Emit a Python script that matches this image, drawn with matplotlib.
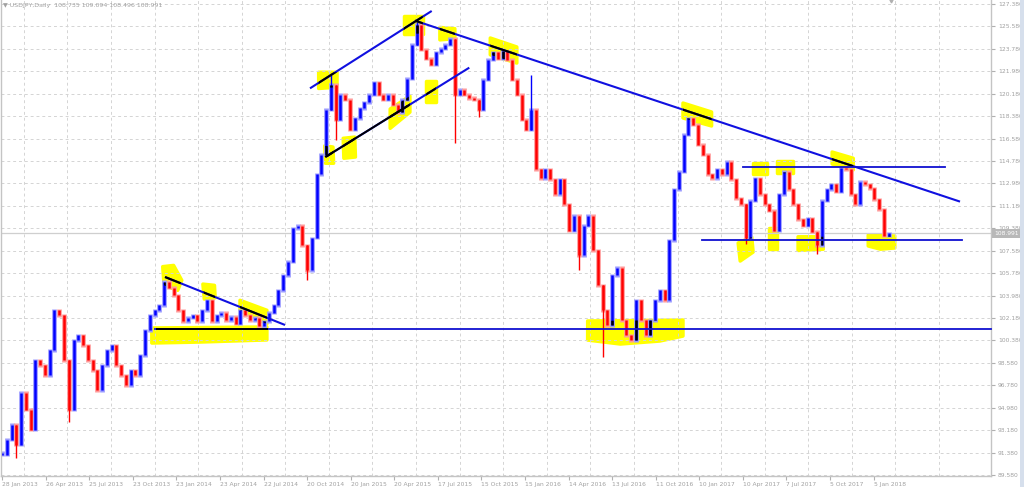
import numpy as np
import matplotlib
matplotlib.use("Agg")
import matplotlib.pyplot as plt
import matplotlib.transforms as mtransforms
from matplotlib.path import Path
from matplotlib.patches import Polygon, Rectangle

# USDJPY daily, one close read every 7 trading days
step_days = 7
closes = [
    91.2, 92.4, 93.6, 92.0, 96.2, 94.8, 93.2, 98.8, 98.4, 97.6,
    99.6, 102.8, 102.4, 98.8, 94.8, 100.4, 100.8, 100.0, 98.8, 98.0,
    96.4, 98.4, 99.6, 100.0, 98.4, 97.6, 96.8, 98.0, 97.6, 99.2,
    101.2, 102.4, 102.8, 103.2, 105.1, 104.6, 104.0, 102.8, 101.9, 102.2,
    102.4, 101.9, 102.8, 103.6, 101.9, 102.4, 102.6, 102.0, 102.3, 101.7,
    102.8, 102.4, 102.0, 102.2, 101.5, 101.9, 102.6, 103.2, 104.4, 105.6,
    106.7, 109.4, 109.6, 108.0, 106.0, 108.6, 113.7, 115.3, 118.9, 120.9,
    118.1, 120.1, 119.7, 117.3, 118.2, 119.0, 119.5, 120.1, 121.1, 120.1,
    119.7, 120.1, 119.3, 118.7, 119.7, 121.4, 124.1, 125.7, 123.7, 123.0,
    122.5, 123.5, 123.8, 124.1, 124.6, 120.1, 120.5, 120.1, 119.8, 119.7,
    118.9, 121.3, 122.9, 123.5, 123.0, 123.6, 122.9, 121.3, 120.1, 118.1,
    117.3, 118.9, 114.1, 113.4, 114.1, 113.3, 112.1, 113.3, 111.3, 109.2,
    110.4, 107.2, 109.6, 110.4, 107.6, 104.8, 102.8, 101.6, 105.6, 106.2,
    102.0, 100.8, 100.4, 103.6, 102.0, 100.8, 102.0, 103.6, 104.4, 103.6,
    108.4, 112.5, 113.9, 116.9, 118.2, 117.7, 116.1, 115.3, 113.7, 113.4,
    114.1, 113.7, 114.7, 113.3, 111.8, 111.3, 108.6, 111.6, 113.4, 112.1,
    111.3, 110.8, 109.2, 112.1, 113.9, 112.5, 111.3, 110.1, 109.6, 110.2,
    109.1, 108.0, 111.6, 112.5, 112.9, 112.3, 114.2, 114.1, 112.1, 111.3,
    113.1, 112.9, 112.6, 111.7, 110.9, 108.8, 108.991,
]

# long wicks that stick out of the bodies (sample index, extreme price)
spike_idx = [3, 14, 64, 69, 70, 87, 95, 100, 111, 121, 126, 156, 171]
spike_val = [90.94, 93.83, 105.23, 121.68, 116.47, 125.94, 116.22, 118.31,
             121.68, 106.03, 99.05, 108.12, 107.32]

last_price = 108.991
header = "USDJPY,Daily  108.735 109.094 108.496 108.991"

date_labels = ["28 Jan 2013", "26 Apr 2013", "25 Jul 2013", "23 Oct 2013",
               "23 Jan 2014", "23 Apr 2014", "22 Jul 2014", "20 Oct 2014",
               "20 Jan 2015", "20 Apr 2015", "17 Jul 2015", "15 Oct 2015",
               "15 Jan 2016", "14 Apr 2016", "13 Jul 2016", "11 Oct 2016",
               "10 Jan 2017", "10 Apr 2017", "7 Jul 2017", "5 Oct 2017",
               "5 Jan 2018"]
bars_per_label = 64
price_labels = [89.58, 91.38, 93.18, 94.98, 96.78, 98.58, 100.38, 102.18,
                103.98, 105.78, 107.58, 109.38, 111.18, 112.98, 114.78,
                116.58, 118.38, 120.18, 121.98, 123.78, 125.58, 127.38]

# hand drawn trend lines (trading day, price)
diag_lines = [
    [(606.5, 126.04), (1406.8, 111.52)],   # long falling resistance
    [(452.3, 120.61), (631.0, 126.82)],    # channel top
    [(475.8, 115.13), (686.2, 122.27)],    # channel bottom
    [(239.4, 105.47), (415.6, 101.62)],    # 2014 triangle top
]
flat_lines = [
    (101.29, 224.7, 1452.3),
    (114.32, 1088.0, 1385.0),
    (108.44, 1028.0, 1410.0),
]
black_lines = [
    [(227.6, 101.29), (389.1, 101.29)],
    [(475.8, 115.13), (594.7, 119.17)],
]

# yellow marker highlights
highlights = [
    [(236, 106.3), (252, 106.4), (264, 105.2), (258, 104.4), (238, 104.8)],
    [(295, 104.9), (312, 104.8), (313, 103.8), (297, 103.7)],
    [(349.5, 103.6), (389, 102.8), (389, 101.7), (349.5, 102.8)],
    [(220, 101.38), (389, 101.46), (389, 100.42), (291, 100.25), (220, 100.17)],
    [(465, 121.9), (492, 121.9), (492, 120.7), (465, 120.6)],
    [(474, 116.0), (486, 115.9), (487, 114.6), (475, 114.6)],
    [(501, 116.6), (518, 116.7), (519, 115.1), (502, 115.0)],
    [(570, 118.95), (599, 120.0), (599, 118.7), (570, 117.4)],
    [(590, 126.4), (618, 126.4), (618, 125.0), (590, 125.0)],
    [(623, 121.2), (637, 121.2), (637, 119.5), (623, 119.5)],
    [(643, 125.5), (665, 125.4), (665, 124.6), (643, 124.5)],
    [(717, 124.65), (756, 123.93), (756, 122.64), (717, 123.3)],
    [(1000, 119.43), (1042, 118.71), (1042, 117.59), (1000, 118.23)],
    [(860, 101.94), (1000, 102.02), (1000, 100.73), (966, 100.33),
     (908, 100.09), (860, 100.41)],
    [(1081, 108.2), (1101, 108.68), (1103, 107.47), (1084, 106.75)],
    [(1126, 109.4), (1138, 109.4), (1138, 107.7), (1126, 107.7)],
    [(1169, 108.7), (1206, 108.7), (1206, 107.7), (1169, 107.6)],
    [(1272, 108.84), (1311, 108.76), (1311, 107.8), (1290, 107.7), (1272, 107.96)],
    [(1103, 114.6), (1123, 114.6), (1123, 113.7), (1103, 113.7)],
    [(1138, 114.8), (1162, 114.8), (1162, 113.8), (1138, 113.8)],
    [(1219, 115.5), (1250, 115.0), (1250, 114.06), (1219, 114.54)],
]

BULL = "#0000ff"
BEAR = "#ff0000"
GRID = "#d4d4d4"
TXT = "#a0a0a0"

fig = plt.figure(figsize=(10.24, 4.87), dpi=100)
ax = fig.add_axes([1 / 1024, 11 / 487, 990 / 1024, 476 / 487])
ax.set_xlim(-1.47, 1452.3)
ax.set_ylim(89.50, 127.70)

# grid
ax.set_xticks([bars_per_label * k for k in range(len(date_labels))])
ax.set_xticklabels(date_labels, ha="left")
ax.set_xticks([bars_per_label * k + bars_per_label / 2 for k in range(len(date_labels) + 1)],
              minor=True)
ax.set_yticks(price_labels)
ax.set_yticklabels(["%.3f" % p for p in price_labels])
ax.yaxis.tick_right()
ax.grid(True, axis="y", which="major", color=GRID, ls=(0, (3, 3)), lw=0.7, zorder=0)
ax.grid(True, axis="x", which="minor", color=GRID, ls=(0, (3, 3)), lw=0.7, zorder=0)
ax.tick_params(axis="x", which="major", length=3, color="#b0b0b0", labelsize=4.3,
               labelcolor=TXT, pad=1.5)
ax.tick_params(axis="x", which="minor", length=0)
ax.tick_params(axis="y", length=3, color="#b0b0b0", labelsize=4.3, labelcolor=TXT, pad=2)
ax.spines["top"].set_visible(False)
for s in ["left", "right", "bottom"]:
    ax.spines[s].set_color("#c4c4c4")
    ax.spines[s].set_linewidth(1.0)

# yellow highlighter
for poly in highlights:
    ax.add_patch(Polygon(poly, closed=True, facecolor="#ffff00", edgecolor="#ffff00",
                         lw=2.5, joinstyle="round", zorder=1))

verts, codes = [], []
for poly in highlights:
    verts += list(poly) + [poly[0]]
    codes += [Path.MOVETO] + [Path.LINETO] * (len(poly) - 1) + [Path.CLOSEPOLY]
hl_path = Path(verts, codes)

# bid line
ax.axhline(last_price, color="#cfcfcf", lw=0.9, zorder=1.5)

# candles: body from previous close to this close
days = np.arange(len(closes)) * step_days
c = np.array(closes)
opens = np.r_[c[0], c[:-1]]
up = c >= opens
cols = np.where(up, BULL, BEAR)
halo = np.where(up, "#9a9aff", "#ff9a9a")
lo = np.minimum(opens, c)
hi = np.maximum(opens, c)
hi = np.where(hi - lo < 0.15, lo + 0.15, hi)

ax.vlines(days, lo - 0.12, hi + 0.12, colors=halo, lw=3.4, zorder=1.9)
ax.vlines(days, lo, hi, colors=cols, lw=1.8, zorder=2)
wlo, whi, wcol = [], [], []
for i, v in zip(spike_idx, spike_val):
    wlo.append(min(v, lo[i]))
    whi.append(max(v, hi[i]))
    wcol.append(cols[i])
ax.vlines(days[spike_idx], wlo, whi, colors=wcol, lw=1.0, zorder=2)

# inside the marker, blue ink turns black
dark = ax.vlines(days[up], lo[up], hi[up], colors="black", lw=1.8, zorder=2.2)
dark.set_clip_path(hl_path, ax.transData)

for pts in diag_lines:
    xs, ys = zip(*pts)
    ax.plot(xs, ys, color="#1010e0", lw=1.5, zorder=2.5, solid_capstyle="butt")
    ln, = ax.plot(xs, ys, color="black", lw=1.5, zorder=2.6, solid_capstyle="butt")
    ln.set_clip_path(hl_path, ax.transData)

for y, x0, x1 in flat_lines:
    ax.plot([x0, x1], [y, y], color="#1010d0", lw=1.3, zorder=3, clip_on=False)
for pts in black_lines:
    xs, ys = zip(*pts)
    ax.plot(xs, ys, color="black", lw=1.4, zorder=3.1)

# price box on the right scale
tr = mtransforms.blended_transform_factory(ax.transAxes, ax.transData)
ax.text(1.003, last_price, "%.3f" % last_price, transform=tr, ha="left", va="center",
        fontsize=4.3, color="white", zorder=5, clip_on=False,
        bbox=dict(boxstyle="square,pad=0.35", fc="#b8b8b8", ec="none"))

# chart shift marker and header
ax.plot([days[-1] + 3], [1.0], marker="v", ms=3.5, color="#b0b0b0",
        transform=mtransforms.blended_transform_factory(ax.transData, ax.transAxes),
        clip_on=False, zorder=5)
fig.text(3 / 1024, 1 - 6 / 487, "\u25bc " + header, fontsize=4.5, color=TXT,
         ha="left", va="center")

# window frame on the right
fig.patches.append(Rectangle((1020 / 1024, 0), 4 / 1024, 1, transform=fig.transFigure,
                             facecolor="#d6dfec", edgecolor="none"))

fig.savefig("out.png", dpi=100)
